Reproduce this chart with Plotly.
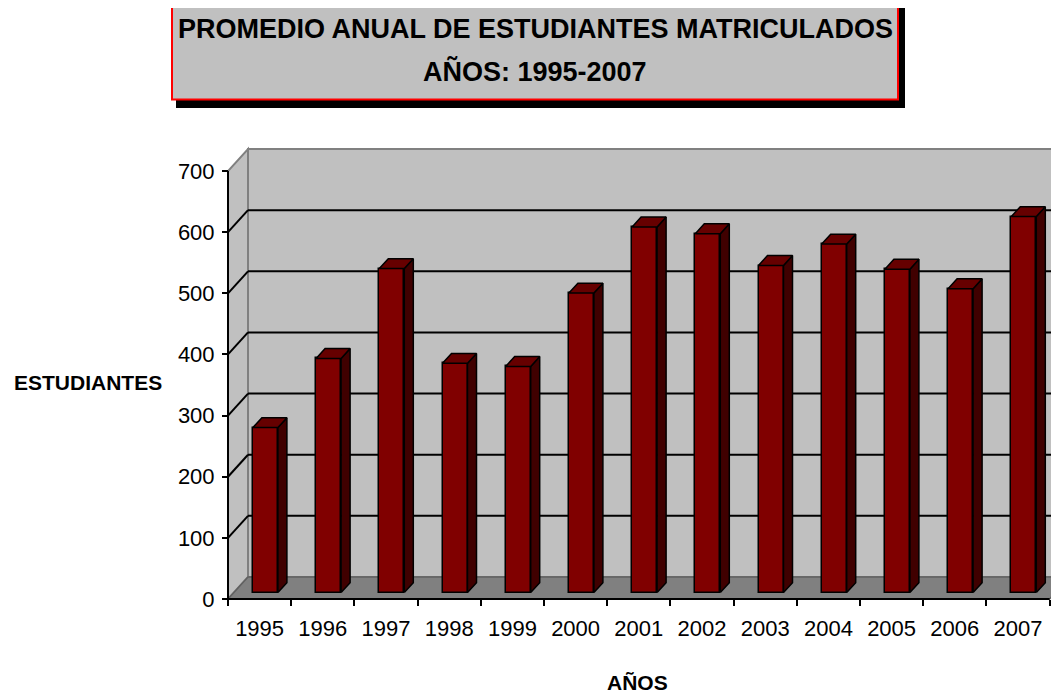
import plotly.graph_objects as go

years = ["1995", "1996", "1997", "1998", "1999", "2000", "2001",
         "2002", "2003", "2004", "2005", "2006", "2007"]
students = [270, 383, 530, 375, 370, 490, 598, 587, 535, 570, 529, 497, 615]
y_ticks = [0, 100, 200, 300, 400, 500, 600, 700]
grid_vals = [100, 200, 300, 400, 500, 600]

# ---- geometry (pixels, in screen coordinates of the 1059x694 window) ----
OFF = 8                      # page body margin offsets the figure by 8px
SW, SH = 1059, 694
W, H = SW, SH - OFF          # figure size (right part simply overflows the window)
PL, PT, PB = 205, 140, 614   # plot area edges in screen px
PR = OFF + W                 # right plot edge in screen px
X0_PX, Y0_PX = 228, 599      # front-left corner (category -0.5, value 0)
CAT_PX, VAL_PX = 63.2, 0.6114
DX = 20 / CAT_PX             # full floor depth in data units
DY = 22 / VAL_PX

L = PL - OFF
T = PT - OFF
R = 0
B = H - (PB - OFF)
PW, PH = W - L - R, H - T - B
xr = [-0.5 - (X0_PX - PL) / CAT_PX, -0.5 + (PR - X0_PX) / CAT_PX]
yr = [-(PB - Y0_PX) / VAL_PX, (Y0_PX - PT) / VAL_PX]
XMAX = xr[1] + 1
n = len(years)
x_left = -0.5
x_right = n - 0.5


def px(p):
    """screen x pixel -> paper coordinate"""
    return (p - PL) / PW


def py(p):
    """screen y pixel -> paper coordinate"""
    return (PB - p) / PH


shapes = []
# back wall
shapes.append(dict(type="path", xref="x", yref="y", layer="below",
                   path=f"M{x_left+DX},{DY} L{XMAX},{DY} L{XMAX},{DY+700} L{x_left+DX},{DY+700} Z",
                   fillcolor="#c0c0c0", line=dict(color="#808080", width=2)))
# left wall
shapes.append(dict(type="path", xref="x", yref="y", layer="below",
                   path=f"M{x_left},0 L{x_left+DX},{DY} L{x_left+DX},{DY+700} L{x_left},700 Z",
                   fillcolor="#c0c0c0", line=dict(color="#808080", width=2)))
# floor
shapes.append(dict(type="path", xref="x", yref="y", layer="below",
                   path=f"M{x_left},0 L{x_right},0 L{x_right+DX},{DY} L{x_left+DX},{DY} Z",
                   fillcolor="#808080", line=dict(color="#606060", width=1.5)))
# gridlines on back and left walls
for v in grid_vals:
    shapes.append(dict(type="line", xref="x", yref="y", layer="below",
                       x0=x_left + DX, x1=XMAX, y0=v + DY, y1=v + DY,
                       line=dict(color="black", width=2)))
    shapes.append(dict(type="line", xref="x", yref="y", layer="below",
                       x0=x_left, x1=x_left + DX, y0=v, y1=v + DY,
                       line=dict(color="black", width=2)))
# front axis lines
shapes.append(dict(type="line", xref="x", yref="y", layer="below",
                   x0=x_left, x1=x_left, y0=0, y1=700, line=dict(color="black", width=2)))
shapes.append(dict(type="line", xref="x", yref="y", layer="below",
                   x0=x_left, x1=x_right, y0=0, y1=0, line=dict(color="black", width=2)))

# title box (shadow + box)
shapes.append(dict(type="rect", xref="paper", yref="paper", layer="above",
                   x0=px(176), x1=px(905), y0=py(2), y1=py(108),
                   fillcolor="black", line=dict(width=0)))
shapes.append(dict(type="rect", xref="paper", yref="paper", layer="above",
                   x0=px(172), x1=px(898), y0=py(-5), y1=py(99.5),
                   fillcolor="#c0c0c0", line=dict(color="#ff0000", width=2)))

# ---- bars ----
TF, TB = 0.29, 0.74
HW = 12.5 / CAT_PX
xs_front = [i + DX * TF for i in range(n)]
base_front = DY * TF

side_x, side_y, top_x, top_y = [], [], [], []
for i, v in enumerate(students):
    xf_l, xf_r = i - HW + DX * TF, i + HW + DX * TF
    xb_l, xb_r = i - HW + DX * TB, i + HW + DX * TB
    bf, bb = DY * TF, DY * TB
    side_x += [xf_r, xb_r, xb_r, xf_r, xf_r, None]
    side_y += [bf, bb, bb + v, bf + v, bf, None]
    top_x += [xf_l, xf_r, xb_r, xb_l, xf_l, None]
    top_y += [bf + v, bf + v, bb + v, bb + v, bf + v, None]

fig = go.Figure()
fig.add_trace(go.Bar(x=xs_front, y=students, base=base_front, width=2 * HW,
                     marker=dict(color="#800000", line=dict(color="black", width=1.5)),
                     hoverinfo="skip", showlegend=False))
fig.add_trace(go.Scatter(x=side_x, y=side_y, mode="lines", fill="toself",
                         fillcolor="#400000", line=dict(color="black", width=1.5),
                         hoverinfo="skip", showlegend=False))
fig.add_trace(go.Scatter(x=top_x, y=top_y, mode="lines", fill="toself",
                         fillcolor="#660000", line=dict(color="black", width=1.5),
                         hoverinfo="skip", showlegend=False))

tick_font = dict(family="Liberation Sans, Arial, sans-serif", size=22, color="black")
axis_pos = py(Y0_PX)

fig.update_layout(
    width=W, height=H,
    margin=dict(l=L, r=R, t=T, b=B, pad=0),
    paper_bgcolor="white", plot_bgcolor="white",
    showlegend=False,
    bargap=0,
    xaxis=dict(range=xr, tickvals=list(range(n)), ticktext=years, ticks="",
               showgrid=False, zeroline=False, showline=False,
               anchor="free", position=axis_pos, tickfont=tick_font,
               ticklabelstandoff=14),
    xaxis2=dict(range=xr, overlaying="x", side="bottom", anchor="free", position=axis_pos,
                tickvals=[i - 0.5 for i in range(n + 1)], ticks="outside", ticklen=6,
                tickwidth=2, tickcolor="black", showticklabels=False,
                showgrid=False, zeroline=False, showline=False),
    yaxis=dict(range=yr, tickvals=y_ticks, ticks="outside", ticklen=6, tickwidth=2,
               tickcolor="black", showgrid=False, zeroline=False, showline=False,
               anchor="free", position=px(X0_PX), tickfont=tick_font,
               ticklabelstandoff=3),
    shapes=shapes,
    annotations=[
        dict(text="<b>PROMEDIO ANUAL DE ESTUDIANTES MATRICULADOS</b>", xref="paper", yref="paper",
             x=px(535), y=py(29), xanchor="center", yanchor="middle", showarrow=False,
             font=dict(family="Liberation Sans, Arial, sans-serif", size=27, color="black")),
        dict(text="<b>AÑOS: 1995-2007</b>", xref="paper", yref="paper",
             x=px(535), y=py(72), xanchor="center", yanchor="middle", showarrow=False,
             font=dict(family="Liberation Sans, Arial, sans-serif", size=27, color="black")),
        dict(text="<b>ESTUDIANTES</b>", xref="paper", yref="paper",
             x=px(88), y=py(382), xanchor="center", yanchor="middle", showarrow=False,
             font=dict(family="Liberation Sans, Arial, sans-serif", size=21, color="black")),
        dict(text="<b>AÑOS</b>", xref="paper", yref="paper",
             x=px(637), y=py(682), xanchor="center", yanchor="middle", showarrow=False,
             font=dict(family="Liberation Sans, Arial, sans-serif", size=21, color="black")),
    ],
)

# tie an invisible trace to xaxis2 so it is drawn
fig.add_trace(go.Scatter(x=[xr[0]], y=[yr[0]], xaxis="x2", yaxis="y", mode="markers",
                         marker=dict(opacity=0), hoverinfo="skip", showlegend=False))

fig.write_html("out.html")
